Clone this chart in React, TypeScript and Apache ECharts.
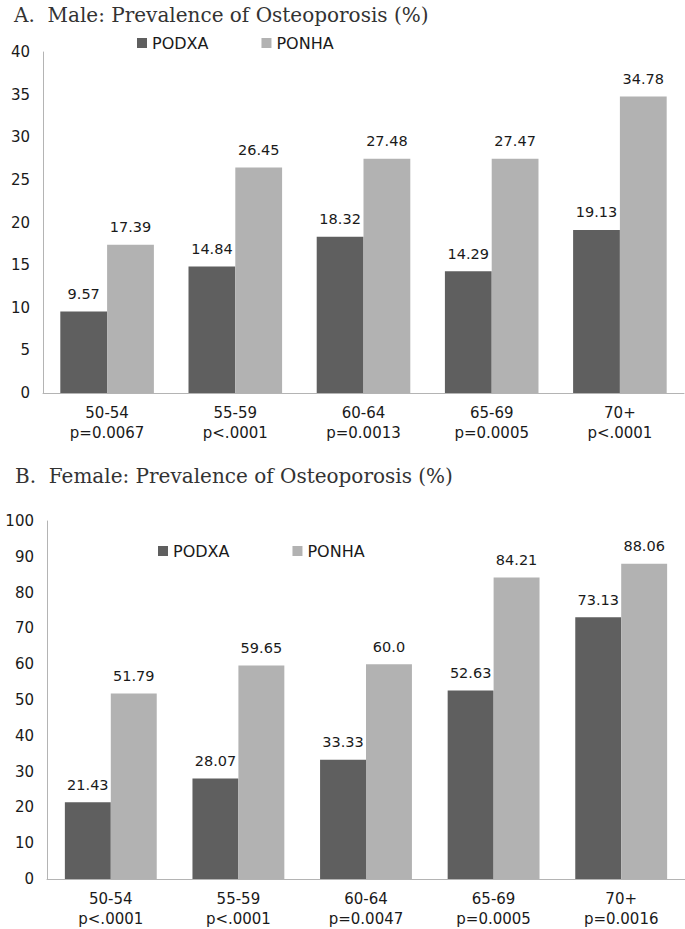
import React, { useEffect, useRef } from "react";
import * as echarts from "echarts";

const categories = ["50-54", "55-59", "60-64", "65-69", "70+"];
const maleP = ["p=0.0067", "p<.0001", "p=0.0013", "p=0.0005", "p<.0001"];
const femaleP = ["p<.0001", "p<.0001", "p=0.0047", "p=0.0005", "p=0.0016"];
const malePODXA = [9.57, 14.84, 18.32, 14.29, 19.13];
const malePONHA = [17.39, 26.45, 27.48, 27.47, 34.78];
const femalePODXA = [21.43, 28.07, 33.33, 52.63, 73.13];
const femalePONHA = [51.79, 59.65, 60.0, 84.21, 88.06];
const seriesNames = ["PODXA", "PONHA"];

const DARK = "#5f5f5f";
const LIGHT = "#b2b2b2";
const AXIS = "#b4b4b4";
const TEXT = "#1a1a1a";
const SANS = "DejaVu Sans";

const fmt = (p: any) => {
  const v = p.value as number;
  return Number.isInteger(v) ? v.toFixed(1) : String(v);
};

export default function App() {
  const ref = useRef<HTMLDivElement>(null);
  useEffect(() => {
    if (!ref.current) return;
    const chart = echarts.init(ref.current, null, { renderer: "svg" });
    const label = {
      show: true,
      position: "top" as const,
      distance: 10,
      color: TEXT,
      fontFamily: SANS,
      fontSize: 14.5,
      formatter: fmt,
    };
    const xAxisCommon = (gridIndex: number, pvals: string[]) => ({
      type: "category" as const,
      gridIndex,
      data: categories.map((c, i) => c + "\n" + pvals[i]),
      axisLine: { show: true, lineStyle: { color: AXIS, width: 1 } },
      axisTick: { show: false },
      axisLabel: {
        color: TEXT,
        fontFamily: SANS,
        fontSize: 15,
        lineHeight: 20,
        margin: 10,
        interval: 0,
      },
    });
    const yAxisCommon = (gridIndex: number, max: number, interval: number) => ({
      type: "value" as const,
      gridIndex,
      min: 0,
      max,
      interval,
      axisLine: { show: true, lineStyle: { color: AXIS, width: 1 } },
      axisTick: { show: false },
      splitLine: { show: false },
      axisLabel: { color: TEXT, fontFamily: SANS, fontSize: 15, margin: 13 },
    });
    const titleStyle = { fontFamily: "DejaVu Serif", fontSize: 20, fontWeight: "normal" as const, color: "#333333" };
    const legendText = { fontFamily: SANS, fontSize: 16, color: TEXT };
    chart.setOption({
      animation: false,
      backgroundColor: "#ffffff",
      title: [
        {
          text: "A.  Male: Prevalence of Osteoporosis (%)",
          left: 14,
          top: 5,
          padding: 0,
          textStyle: titleStyle,
        },
        {
          text: "B.  Female: Prevalence of Osteoporosis (%)",
          left: 15,
          top: 466,
          padding: 0,
          textStyle: titleStyle,
        },
      ],
      legend: [
        {
          data: seriesNames,
          left: 137,
          top: 35,
          padding: 0,
          itemWidth: 10,
          itemHeight: 10,
          itemGap: 53,
          icon: "rect",
          textStyle: legendText,
        },
        {
          data: seriesNames,
          left: 158,
          top: 543,
          padding: 0,
          itemWidth: 10,
          itemHeight: 10,
          itemGap: 63,
          icon: "rect",
          textStyle: legendText,
        },
      ],
      grid: [
        { left: 43, top: 52, width: 641, height: 341 },
        { left: 47, top: 521, width: 638, height: 362 },
      ],
      xAxis: [xAxisCommon(0, maleP), xAxisCommon(1, femaleP)],
      yAxis: [yAxisCommon(0, 40, 5), yAxisCommon(1, 100, 10)],
      series: [
        { name: "PODXA", type: "bar", xAxisIndex: 0, yAxisIndex: 0, data: malePODXA, itemStyle: { color: DARK }, barGap: "0%", barCategoryGap: "27%", label },
        { name: "PONHA", type: "bar", xAxisIndex: 0, yAxisIndex: 0, data: malePONHA, itemStyle: { color: LIGHT }, barGap: "0%", barCategoryGap: "27%", label },
        { name: "PODXA", type: "bar", xAxisIndex: 1, yAxisIndex: 1, data: femalePODXA, itemStyle: { color: DARK }, barGap: "0%", barCategoryGap: "28%", label },
        { name: "PONHA", type: "bar", xAxisIndex: 1, yAxisIndex: 1, data: femalePONHA, itemStyle: { color: LIGHT }, barGap: "0%", barCategoryGap: "28%", label },
      ],
    });
    return () => chart.dispose();
  }, []);
  return (
    <div
      ref={ref}
      style={{ position: "fixed", left: 0, top: 0, width: 685, height: 929, background: "#fff" }}
    />
  );
}
